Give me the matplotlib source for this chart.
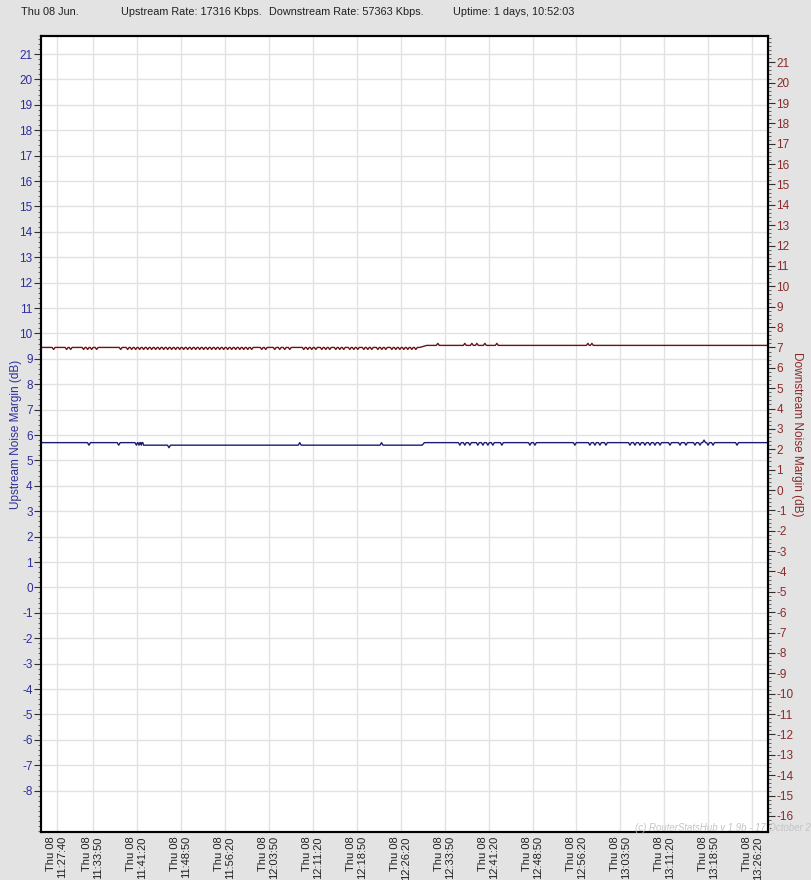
import matplotlib
matplotlib.use("Agg")
import matplotlib.pyplot as plt
import matplotlib.dates as mdates
from matplotlib.ticker import MultipleLocator
import numpy as np
import pandas as pd

plt.rcParams['font.family'] = ['Liberation Sans', 'DejaVu Sans']
plt.rcParams['axes.unicode_minus'] = False

# day of the log, everything below is minutes after 11:00
day = pd.Timestamp("2023-06-08 11:00:00")

tick_times = ["11:27:40", "11:33:50", "11:41:20", "11:48:50", "11:56:20",
              "12:03:50", "12:11:20", "12:18:50", "12:26:20", "12:33:50",
              "12:41:20", "12:48:50", "12:56:20", "13:03:50", "13:11:20",
              "13:18:50", "13:26:20"]

# downstream noise margin (right axis)
down_level_t = [25.0, 89.6, 90.8, 149.0]
down_level_v = [7.0, 7.0, 7.1, 7.1]
down_dips = [27.15, 29.37, 30.06, 32.27, 32.96, 33.64, 34.49, 38.59,
             39.78, 40.47, 41.15, 41.83, 42.51, 43.20, 43.88, 44.56, 45.24,
             45.93, 46.61, 47.29, 47.97, 48.66, 49.34, 50.02, 50.70, 51.39,
             52.07, 52.75, 53.43, 54.12, 54.80, 55.48, 56.16, 56.85, 57.53,
             58.21, 58.90, 59.58, 60.26, 60.94, 62.65, 63.33, 64.87, 65.72,
             66.57, 67.43, 69.82, 70.50, 71.18, 71.87, 72.89, 73.57, 74.25,
             75.28, 75.96, 76.64, 77.67, 78.35, 79.03, 80.06, 80.74, 81.42,
             82.45, 83.13, 83.81, 84.84, 85.52, 86.20, 86.88, 87.56, 88.25,
             88.93]
down_bumps = [92.68, 97.29, 98.49, 99.34, 100.71, 102.75, 118.28, 118.96]

# upstream noise margin (left axis)
up_level_t = [25.0, 42.2, 42.5, 90.0, 90.4, 149.0]
up_level_v = [5.7, 5.7, 5.6, 5.6, 5.7, 5.7]
up_dips = [33.18, 38.25, 41.27, 41.71, 42.12, 46.83, 96.44, 97.29, 98.15,
           99.51, 100.37, 101.22, 102.07, 103.61, 108.39, 109.24, 116.06,
           118.62, 119.48, 120.33, 121.36, 125.45, 126.31, 127.16, 128.02,
           128.87, 129.72, 130.58, 132.28, 133.99, 135.01, 136.55, 137.40,
           138.77, 139.62, 143.72]
up_bumps = [69.13, 83.08, 138.09]


def build(level_t, level_v, dips, bumps, step=0.1, half=0.25):
    pts = list(zip(level_t, level_v))
    for t, d in [(t, -step) for t in dips] + [(t, step) for t in bumps]:
        base = np.interp(t, level_t, level_v)
        pts += [(t - half, base), (t, base + d), (t + half, base)]
    pts.sort()
    t, v = zip(*pts)
    return day + pd.to_timedelta(np.array(t), unit="min"), np.array(v)


up_t, up_v = build(up_level_t, up_level_v, up_dips, up_bumps)
dn_t, dn_v = build(down_level_t, down_level_v, down_dips, down_bumps)

blue_txt = '#2e2e9a'
red_txt = '#8a2a2a'

fig = plt.figure(figsize=(8.12, 8.80), dpi=100, facecolor='#e3e3e3')
ax = fig.add_axes([41/812, 1 - 832/880, 727/812, 796/880])
ax.set_facecolor('white')
ax2 = ax.twinx()

ax.plot(up_t, up_v, color='#1c1c72', lw=1.0)
ax2.plot(dn_t, dn_v, color='#6a1414', lw=1.0)

ax.set_xlim(day + pd.Timedelta(minutes=25), day + pd.Timedelta(minutes=149))
ax.set_ylim(-9.63, 21.71)
ax2.set_ylim(-16.79, 22.29)

ax.set_xticks([pd.Timestamp("2023-06-08 " + t) for t in tick_times])
ax.xaxis.set_major_formatter(mdates.DateFormatter('%a %d\n%H:%M:%S'))
for lab in ax.get_xticklabels():
    lab.set_rotation(90)
    lab.set_multialignment('right')
    lab.set_va('top')
ax.tick_params(axis='x', labelsize=8, length=0, pad=3, colors='#202020')

ax.set_yticks(range(-8, 22))
ax.yaxis.set_minor_locator(MultipleLocator(0.2))
ax.tick_params(axis='y', which='major', labelsize=8.5, labelcolor=blue_txt,
               length=5, color='#303030', pad=1)
ax.tick_params(axis='y', which='minor', length=2.5, color='#505050')

ax2.set_yticks(range(-16, 22))
ax2.yaxis.set_minor_locator(MultipleLocator(0.2))
ax2.tick_params(axis='y', which='major', labelsize=8.5, labelcolor=red_txt,
                length=5, color='#303030', pad=1)
ax2.tick_params(axis='y', which='minor', length=2.5, color='#505050')

ax.grid(True, color='#e2e2e2', lw=1.0)
ax.set_axisbelow(True)
for a in (ax, ax2):
    for s in a.spines.values():
        s.set_linewidth(1.5)
        s.set_color('black')

fig.text(16/812, 0.5 + (880/2 - 434)/880, 'Upstream Noise Margin (dB)',
         rotation=90, color=blue_txt, fontsize=8.5, ha='center', va='center')
fig.text(797/812, 0.5 + (880/2 - 434)/880, 'Downstream Noise Margin (dB)',
         rotation=270, color=red_txt, fontsize=8.5, ha='center', va='center')

head_y = 1 - 12/880
fig.text(21/812, head_y, 'Thu 08 Jun.', fontsize=7.8, va='center', color='#202020')
fig.text(121/812, head_y, 'Upstream Rate: 17316 Kbps.', fontsize=7.8, va='center', color='#202020')
fig.text(269/812, head_y, 'Downstream Rate: 57363 Kbps.', fontsize=7.8, va='center', color='#202020')
fig.text(453/812, head_y, 'Uptime: 1 days, 10:52:03', fontsize=7.8, va='center', color='#202020')

fig.text(811/812, 1 - 828/880, '(c) RouterStatsHub v 1.9b - 17 October 2',
         fontsize=6.9, style='italic', color='#c4c4c4', va='center', ha='right')

fig.savefig('out.png', dpi=100, facecolor=fig.get_facecolor())
